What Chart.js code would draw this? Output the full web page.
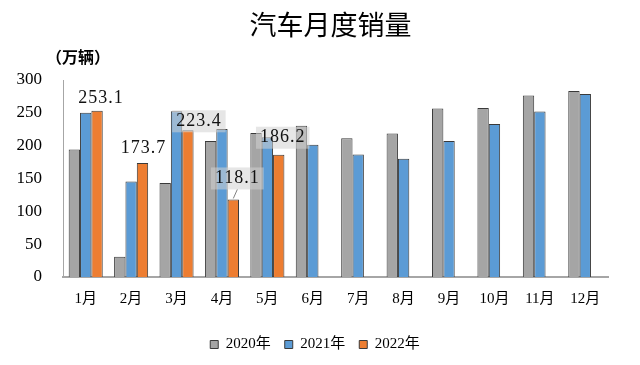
<!DOCTYPE html>
<html lang="zh">
<head>
  <meta charset="UTF-8">
  <title>汽车月度销量</title>
  <script src="https://cdn.jsdelivr.net/npm/chart.js"></script>
  <style>
    html, body {
      margin: 0;
      padding: 0;
      background: #fff;
    }
    .wrap {
      width: 640px;
      height: 365px;
    }
  </style>
</head>
<body>
  <div class="wrap">
    <canvas id="salesChart" width="640" height="365"></canvas>
  </div>

  <script>
    // data (万辆)
    const months = ['1月', '2月', '3月', '4月', '5月', '6月', '7月', '8月', '9月', '10月', '11月', '12月'];
    const sales2020 = [194.1, 31.0, 143.1, 207.0, 219.4, 230.2, 211.2, 218.6, 256.5, 257.3, 276.5, 283.1];
    const sales2021 = [250.3, 145.5, 252.6, 225.2, 212.8, 201.5, 186.4, 180.0, 207.1, 233.1, 252.2, 278.6];
    const sales2022 = [253.1, 173.7, 223.4, 118.1, 186.2, null, null, null, null, null, null, null];
    const seriesNames = ['2020年', '2021年', '2022年'];
    const yTicks = [0, 50, 100, 150, 200, 250, 300];

    // where the value labels of 2022 sit, relative to the bar top (styling only)
    const labelShift = [
      { dx: 4, dy: -13, box: false, leader: false },
      { dx: 1, dy: -15, box: false, leader: false },
      { dx: 11, dy: -9, box: true, leader: false },
      { dx: 4, dy: -21, box: true, leader: true },
      { dx: 4, dy: -17, box: true, leader: false }
    ];

    const serif = "'Liberation Serif', 'DejaVu Serif', 'Noto Sans CJK SC', serif";
    const cjk = "'Noto Sans CJK SC', 'Liberation Serif', sans-serif";

    const headerPlugin = {
      id: 'header',
      afterLayout(chart) {
        // legend sits a little right of the canvas centre in the original
        chart.legend.left += 11;
        chart.legend.right += 11;
      },
      afterDraw(chart) {
        const ctx = chart.ctx;
        const area = chart.chartArea;
        ctx.save();
        ctx.fillStyle = '#000';
        ctx.textAlign = 'center';
        ctx.textBaseline = 'middle';
        ctx.font = "27px " + cjk;
        ctx.fillText('汽车月度销量', (area.left + area.right) / 2 - 5, 25);
        ctx.font = "bold 16px " + cjk;
        ctx.textAlign = 'left';
        ctx.fillText('（万辆）', 46, 57);
        ctx.restore();
      }
    };

    const valueLabelPlugin = {
      id: 'valueLabels',
      afterDatasetsDraw(chart) {
        const ctx = chart.ctx;
        const meta = chart.getDatasetMeta(2);
        ctx.save();
        ctx.font = "18px " + serif;
        ctx.letterSpacing = '1px';
        ctx.textAlign = 'center';
        ctx.textBaseline = 'middle';
        meta.data.forEach((bar, i) => {
          const v = sales2022[i];
          if (v == null) return;
          const s = labelShift[i];
          const text = v.toFixed(1);
          const x = bar.x + s.dx;
          const y = bar.y + s.dy;
          const w = ctx.measureText(text).width + 8;
          if (s.box) {
            ctx.fillStyle = 'rgba(210, 210, 210, 0.55)';
            ctx.fillRect(x - w / 2, y - 11, w, 22);
          }
          if (s.leader) {
            ctx.strokeStyle = '#808080';
            ctx.lineWidth = 1;
            ctx.beginPath();
            ctx.moveTo(x, y + 11);
            ctx.lineTo(bar.x, bar.y - 1);
            ctx.stroke();
          }
          ctx.fillStyle = '#111';
          ctx.fillText(text, x, y);
        });
        ctx.restore();
      }
    };

    const barStyle = {
      borderColor: '#3a3a3a',
      borderWidth: 1,
      borderSkipped: 'bottom',
      categoryPercentage: 0.75,
      barPercentage: 1.0
    };

    const chart = new Chart(document.getElementById('salesChart'), {
      type: 'bar',
      data: {
        labels: months,
        datasets: [
          Object.assign({ label: seriesNames[0], data: sales2020, backgroundColor: '#a5a5a5' }, barStyle),
          Object.assign({ label: seriesNames[1], data: sales2021, backgroundColor: '#5b9bd5' }, barStyle),
          Object.assign({ label: seriesNames[2], data: sales2022, backgroundColor: '#ed7d31' }, barStyle)
        ]
      },
      options: {
        responsive: false,
        animation: false,
        layout: {
          padding: { top: 80, left: 0, right: 32, bottom: 3 }
        },
        plugins: {
          legend: {
            position: 'bottom',
            labels: {
              boxWidth: 8,
              boxHeight: 8,
              padding: 14,
              color: '#000',
              font: { size: 15, family: serif }
            }
          },
          tooltip: { enabled: false },
          title: { display: false }
        },
        scales: {
          x: {
            grid: { display: false },
            border: { display: true, color: '#a6a6a6', width: 2 },
            afterFit(scale) {
              scale.height += 10;
            },
            ticks: {
              color: '#000',
              padding: 5,
              font: { size: 15, family: serif }
            }
          },
          y: {
            min: 0,
            max: 300,
            afterBuildTicks(axis) {
              axis.ticks = yTicks.map(v => ({ value: v }));
            },
            afterFit(scale) {
              scale.width = 63;
            },
            grid: { display: false },
            border: { display: true, color: '#a6a6a6', width: 1 },
            ticks: {
              color: '#000',
              padding: 13,
              font: { size: 17, family: serif }
            }
          }
        }
      },
      plugins: [headerPlugin, valueLabelPlugin]
    });
  </script>
</body>
</html>
